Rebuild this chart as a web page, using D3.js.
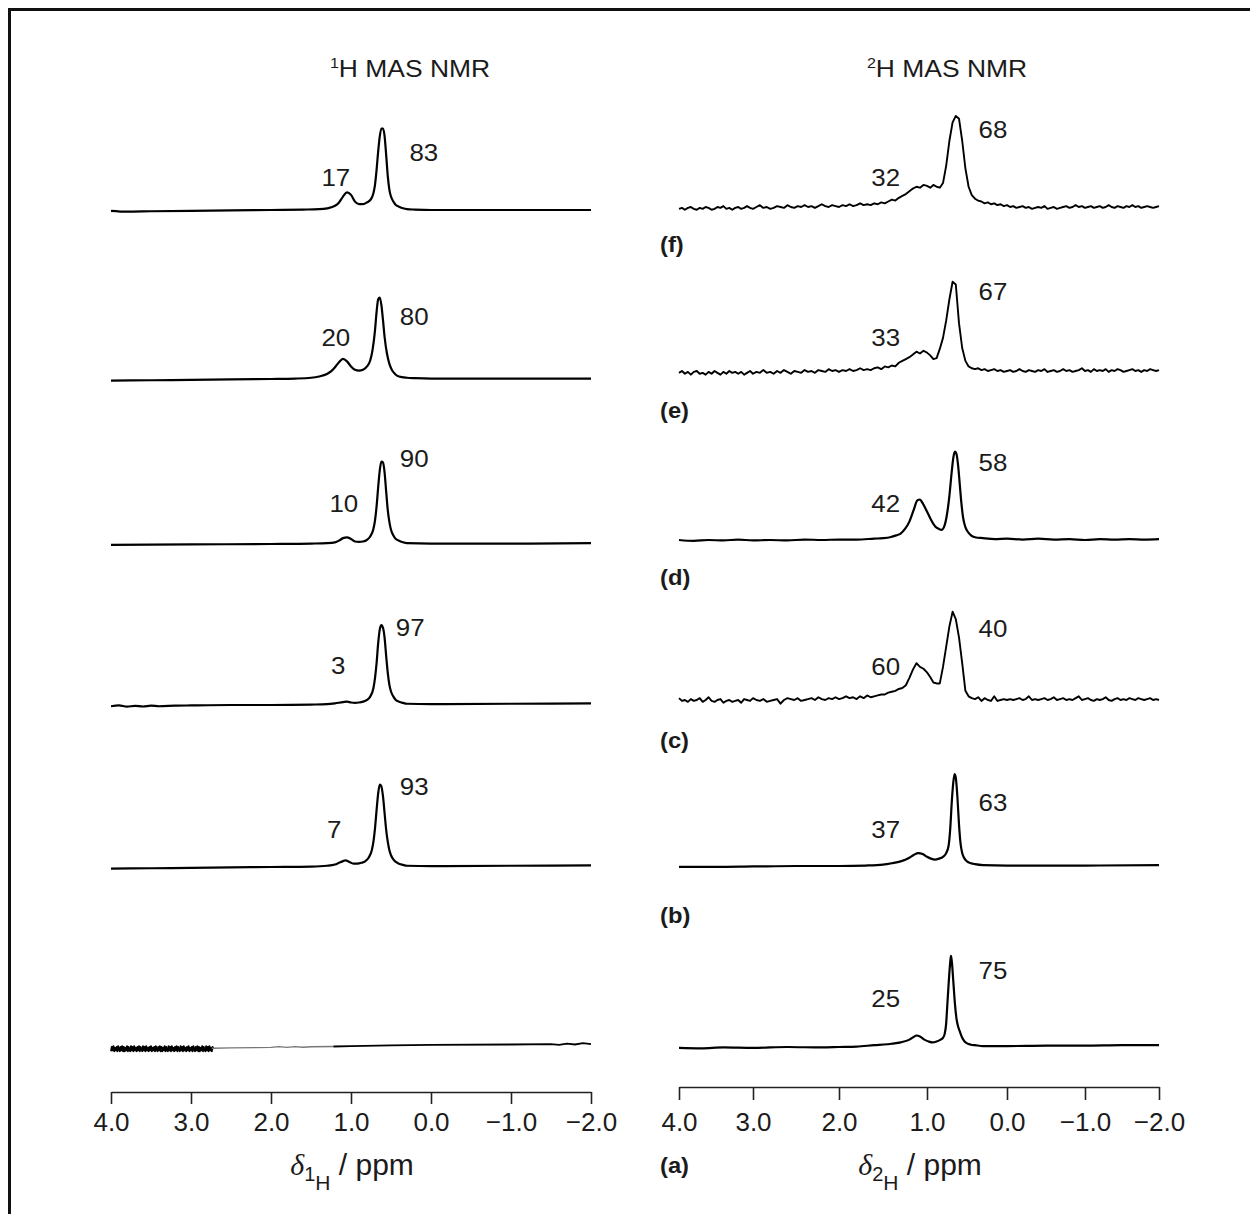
<!DOCTYPE html>
<html>
<head>
<meta charset="utf-8">
<script src="https://cdn.jsdelivr.net/npm/d3@7"></script>
<style>
  html, body { margin: 0; padding: 0; background: #fff; }
  svg { display: block; }
</style>
</head>
<body>
<script>
// ---------------- data ----------------
const tickValues = [4, 3, 2, 1, 0, -1, -2];
const sampleLetters = ["(f)", "(e)", "(d)", "(c)", "(b)", "(a)"];

// relative areas (%) of the ~1.1 ppm and ~0.6 ppm resonances, samples f..a
const h1Areas = [[17, 83], [20, 80], [10, 90], [3, 97], [7, 93], null];
const h2Areas = [[32, 68], [33, 67], [42, 58], [60, 40], [37, 63], [25, 75]];

// 1H MAS NMR spectra: [ppm, intensity]
const h1F = [[4.0,-1],[3.8,-2],[3.5,-1.5],[3.0,-1],[2.5,-0.5],[2.0,0],[1.6,0.5],[1.4,1],[1.3,2],[1.2,5],[1.15,9],[1.1,16],[1.05,21],[1.0,18],[0.95,10],[0.9,7],[0.85,7],[0.8,9],[0.75,13],[0.72,20],[0.7,30],[0.68,48],[0.66,70],[0.64,88],[0.62,97],[0.6,97],[0.58,88],[0.56,65],[0.54,40],[0.52,24],[0.5,16],[0.47,10],[0.44,6],[0.4,4],[0.35,2],[0.3,1],[0.2,0.5],[0,0],[-1,0],[-2,0]];
const h1E = [[4.0,-2],[3.5,-1.5],[3.0,-1],[2.5,-0.5],[2.0,0],[1.7,0.5],[1.5,1.5],[1.4,3],[1.3,6],[1.25,9],[1.2,14],[1.15,20],[1.1,24],[1.05,21],[1.0,15],[0.95,11],[0.9,10],[0.85,11],[0.8,15],[0.76,22],[0.73,35],[0.7,58],[0.68,80],[0.66,95],[0.64,97],[0.62,88],[0.6,70],[0.58,50],[0.55,30],[0.52,18],[0.49,11],[0.45,6],[0.4,3],[0.3,1.5],[0.2,1],[0,0.5],[-1,0.5],[-2,0.5]];
const h1D = [[4.0,-1],[3.0,-0.5],[2.0,0],[1.5,0.5],[1.3,1],[1.2,2],[1.15,4],[1.1,7],[1.05,8],[1.0,6],[0.95,3],[0.9,2.5],[0.85,3],[0.8,5],[0.76,9],[0.72,18],[0.7,28],[0.68,45],[0.66,68],[0.64,88],[0.62,98],[0.6,97],[0.58,85],[0.56,62],[0.54,40],[0.52,26],[0.5,17],[0.47,10],[0.44,6],[0.4,4],[0.35,2],[0.3,1],[0,0.5],[-1,0.5],[-2,1]];
const h1C = [[4.0,-1.5],[3.9,-0.5],[3.8,-2],[3.7,-1],[3.6,-1.8],[3.5,-0.8],[3.4,-1.5],[3.2,-0.8],[3.0,-0.5],[2.5,0],[2.0,0],[1.5,0.5],[1.3,1],[1.2,2],[1.1,3.5],[1.05,4],[1.0,3],[0.95,2.5],[0.9,3],[0.85,4],[0.8,6],[0.76,10],[0.72,20],[0.7,32],[0.68,50],[0.66,74],[0.64,90],[0.62,95],[0.6,92],[0.58,80],[0.56,58],[0.54,38],[0.52,24],[0.5,16],[0.47,10],[0.44,6],[0.4,4],[0.35,2.5],[0.3,1.5],[0,1],[-1,1.5],[-2,2]];
const h1B = [[4.0,-2],[3.5,-1.5],[3.0,-1],[2.5,-0.5],[2.0,0],[1.5,0.5],[1.3,1.5],[1.2,3],[1.15,5],[1.1,7],[1.07,8],[1.02,6],[0.97,4],[0.92,4],[0.87,5],[0.82,7],[0.78,11],[0.74,20],[0.72,30],[0.7,46],[0.68,68],[0.66,88],[0.64,98],[0.62,96],[0.6,84],[0.58,64],[0.56,44],[0.54,30],[0.52,20],[0.5,14],[0.47,9],[0.44,6],[0.4,4],[0.35,2.5],[0.3,1.5],[0,1],[-1,1.5],[-2,2]];
// sample (a): dense noisy record from 4.0 ppm in 0.01 ppm steps, then a flat trace
const h1ANoise = [-5,0,-4,1,-5,-1,-4,0,-5,1,-3,-5,0,-4,1,-5,0,-5,-1,-4,1,-5,0,-4,-5,1,-4,0,-5,1,-4,-1,-5,0,-4,1,-5,0,-3,-5,1,-4,0,-5,1,-4,-1,-5,0,-4,1,-5,-1,-4,0,-5,1,-3,-5,0,-4,1,-5,0,-5,-1,-4,1,-5,0,-4,-5,1,-4,0,-5,1,-4,-1,-5,0,-4,1,-5,0,-3,-5,1,-4,0,-5,1,-4,-1,-5,0,-4,1,-5,-1,-4,0,-5,1,-3,-5,0,-4,1,-5,0,-5,-1,-4,1,-5,0,-4,-5,1,-4,0,-5,1,-4,-1,-5,0,-2];
const h1AFaint = [[2.74,-1.5],[2.5,-1],[2.2,-0.8],[2.0,-0.5],[1.9,0.5],[1.8,-0.5],[1.7,0.5],[1.6,-0.3],[1.5,0.3],[1.22,0.6]];
const h1ATail = [[1.22,0.6],[1.0,1],[0.5,2],[0,2.5],[-1,3],[-1.5,3.5],[-1.6,2.5],[-1.7,4],[-1.8,3],[-1.9,4.5],[-2,3.5]];

// 2H MAS NMR spectra recorded on a 0.04 ppm grid starting at 4.0 ppm (noisy samples)
const h2F = [-2,-1,-3,-1,0,-2,-3,-1,-2,0, -1,-3,-2,0,-1,1,-2,-1,-3,-1, 0,-2,-1,1,-1,-2,0,2,-1,0, -2,-1,1,0,-1,2,0,-1,1,0, 2,0,1,-1,1,3,1,0,2,1, 0,2,1,3,1,2,4,2,3,2, 4,3,5,4,6,8,7,10,12,14, 17,20,22,21,24,23,21,24,22,21, 26,45,72,92,99,96,72,42,22,13, 9,7,6,4,5,3,4,2,3,1, 2,0,1,-1,0,1,-1,0,-2,-1, 0,-1,1,-2,-1,0,-2,-1,0,1, -1,0,2,0,1,-1,0,1,-1,0, 1,-1,0,2,0,-1,1,0,-1,1, 0,2,0,1,-1,0,1,0,-1,0, 1];
const h2E = [-2,0,-3,-1,-4,-1,0,-3,-2,-4, -1,-3,0,-2,-4,-1,-3,0,-2,-1, -3,-1,-4,-2,0,-3,-1,-2,1,-2, -1,-3,0,-2,1,-1,-3,0,-1,-2, 1,-1,0,-2,1,0,-1,2,0,1, -1,1,0,2,0,1,3,1,2,1, 3,4,2,5,4,6,5,9,11,13, 15,18,21,19,22,20,17,13,14,24, 36,55,78,97,94,52,25,11,5,3, 2,3,1,2,0,1,2,0,1,-1, 0,1,-1,0,2,0,-1,1,0,-1, 1,0,2,-1,0,1,-1,0,2,0, 1,-1,0,1,3,0,1,-1,2,0, 1,0,2,-1,1,0,2,1,-1,0, 1,2,0,1,-1,1,0,2,1,0, 1];
const h2C = [2,-1,0,-2,1,-1,0,2,-2,0, 3,-1,-2,0,1,-3,-1,0,-2,-1, 0,-3,1,0,-1,2,0,-1,1,-2, -1,0,1,-4,0,2,1,0,2,-1, 0,1,2,0,3,1,0,2,1,3, 1,2,4,2,3,1,4,2,5,3, 4,5,6,6,8,9,10,12,13,16, 24,33,40,36,34,30,25,19,18,18, 36,58,80,96,88,68,40,10,4,2, 1,3,-1,2,0,-1,4,-1,0,1, 0,1,0,1,2,0,1,4,0,1, 0,1,2,0,1,3,0,1,2,0, 1,0,2,4,0,1,2,0,-1,1, 0,1,3,0,-1,1,2,0,1,0, 2,1,0,2,1,0,1,2,0,1, 0];
// cleaner 2H spectra: [ppm, intensity]
const h2D = [[4,0],[3.8,-1],[3.6,0],[3.4,-0.5],[3.2,0.5],[3.0,-0.5],[2.8,0],[2.6,-0.5],[2.4,0.5],[2.2,0],[2.0,0.5],[1.8,0.5],[1.6,1.5],[1.5,2],[1.42,3],[1.35,5],[1.3,7],[1.25,12],[1.2,20],[1.15,33],[1.11,43],[1.08,44],[1.05,40],[1.0,31],[0.95,22],[0.9,15],[0.85,12],[0.82,11],[0.78,16],[0.75,28],[0.72,48],[0.69,75],[0.67,90],[0.65,96],[0.63,93],[0.61,80],[0.59,60],[0.57,40],[0.55,25],[0.52,14],[0.49,9],[0.45,5],[0.4,3],[0.3,2],[0.15,1],[0,1.5],[-0.2,0.5],[-0.4,1.5],[-0.6,0.5],[-0.8,1],[-1.0,0],[-1.2,1],[-1.4,0.5],[-1.6,1],[-1.8,0.5],[-2,1]];
const h2B = [[4,-1],[3.5,-1],[3.0,-0.5],[2.5,0],[2.0,0],[1.7,0.5],[1.5,1.5],[1.4,3],[1.3,5],[1.2,9],[1.15,12],[1.1,14],[1.05,13],[1.0,10],[0.95,8],[0.9,7],[0.85,8],[0.8,10],[0.76,14],[0.73,22],[0.71,40],[0.69,70],[0.67,92],[0.655,100],[0.64,96],[0.62,75],[0.6,45],[0.58,24],[0.56,14],[0.53,8],[0.5,5],[0.45,3],[0.4,2],[0.3,1],[0,0.5],[-1,0.5],[-2,1]];
const h2A = [[4,-1],[3.7,-1.5],[3.4,-0.5],[3.0,-1],[2.6,0],[2.2,-0.5],[2.0,0],[1.8,0.5],[1.6,2],[1.45,3],[1.3,5],[1.2,8],[1.15,11],[1.12,12.5],[1.08,11.5],[1.03,8],[0.98,6],[0.93,5],[0.88,6],[0.83,8],[0.8,10],[0.78,14],[0.76,26],[0.75,40],[0.73,68],[0.71,92],[0.70,99],[0.69,93],[0.67,70],[0.65,46],[0.63,30],[0.61,22],[0.59,17],[0.56,10],[0.53,6],[0.5,4],[0.45,2.5],[0.4,2],[0.3,1],[0,1],[-0.5,1.5],[-1,1.5],[-1.5,2],[-2,2]];

// ---------------- helpers ----------------
function onGrid(values, start, step) {
  return values.map((v, i) => [start - i * step, v]);
}

// ---------------- layout ----------------
const W = 1250, H = 1214;
const ink = "#1b1b1b";
const sansFont = "'Liberation Sans', Arial, Helvetica, sans-serif";

const panels = [
  {
    nuc: "1",
    x: d3.scaleLinear().domain([4, -2]).range([111, 591]),
    yPer100: 84,
    bases: [210, 379, 544, 705, 867, 1047],
    spectra: [h1F, h1E, h1D, h1C, h1B, onGrid(h1ANoise, 4.0, 0.01)],
    curves: ["smooth", "smooth", "smooth", "smooth", "smooth", "raw"],
    extra: [{ data: h1AFaint, color: "#777", width: 1.4 }, { data: h1ATail, color: "#000", width: 1.8 }],
    areas: h1Areas,
    labelPpm: [[1.19, 0.09], [1.19, 0.21], [1.09, 0.21], [1.16, 0.26], [1.21, 0.21], null],
    labelRise: [[24.5, 49.5], [33, 54], [32, 77], [31, 69], [29, 72], null],
    axisY: 1092, tickSize: 12, tickPad: 9,
    titleX: 410, axisTitleX: 352
  },
  {
    nuc: "2",
    // the printed 2H axis has slightly uneven tick spacing
    x: d3.scaleLinear().domain(tickValues).range([679, 753, 839, 927, 1007, 1085, 1159]),
    yPer100: 92,
    bases: [207, 371, 540, 700, 866, 1047],
    spectra: [onGrid(h2F, 4.0, 0.04), onGrid(h2E, 4.0, 0.04), h2D, onGrid(h2C, 4.0, 0.04), h2B, h2A],
    curves: ["raw", "raw", "smooth", "raw", "smooth", "smooth"],
    extra: [],
    areas: h2Areas,
    labelPpm: [[1.47, 0.175], [1.47, 0.175], [1.47, 0.175], [1.47, 0.175], [1.47, 0.175], [1.47, 0.175]],
    labelRise: [[21, 69], [25, 71], [28, 69], [25, 63], [28, 55], [40, 68]],
    axisY: 1087, tickSize: 13, tickPad: 13,
    titleX: 947, axisTitleX: 920,
    letterX: 660,
    letterY: [252, 418, 585, 748, 923, 1173]
  }
];

const svg = d3.select("body").append("svg")
  .attr("width", W).attr("height", H)
  .style("font-family", sansFont);

svg.append("rect").attr("width", W).attr("height", H).attr("fill", "#fff");

// frame (top and left edges)
svg.append("path")
  .attr("d", `M9.5,${H} V9.5 H${W}`)
  .attr("fill", "none").attr("stroke", "#111").attr("stroke-width", 3);

panels.forEach(p => {
  const g = svg.append("g");
  const ys = d3.scaleLinear().domain([0, 100]).range([0, p.yPer100]);

  // spectra
  p.spectra.forEach((data, k) => {
    const base = p.bases[k];
    const smooth = p.curves[k] === "smooth";
    const line = d3.line()
      .x(d => p.x(d[0]))
      .y(d => base - ys(d[1]))
      .curve(smooth ? d3.curveMonotoneX : d3.curveLinear);
    g.append("path")
      .datum(data)
      .attr("d", line)
      .attr("fill", "none")
      .attr("stroke", "#000")
      .attr("stroke-width", smooth ? 2.2 : 1.9)
      .attr("stroke-linejoin", "round");

    // area percentages
    const a = p.areas[k];
    if (a) {
      a.forEach((val, j) => {
        g.append("text")
          .attr("transform", `translate(${p.x(p.labelPpm[k][j])},${base - p.labelRise[k][j]}) scale(1.08,1)`)
          .attr("text-anchor", "middle")
          .attr("font-size", 24)
          .attr("fill", ink)
          .text(val);
      });
    }
  });

  // continuation of the bottom trace (sample a) after its noisy start
  p.extra.forEach(seg => {
    const base = p.bases[5];
    g.append("path")
      .datum(seg.data)
      .attr("d", d3.line().x(d => p.x(d[0])).y(d => base - ys(d[1])).curve(d3.curveLinear))
      .attr("fill", "none")
      .attr("stroke", seg.color)
      .attr("stroke-width", seg.width);
  });

  // sample letters
  if (p.letterY) {
    p.letterY.forEach((y, k) => {
      g.append("text")
        .attr("transform", `translate(${p.letterX},${y}) scale(1.08,1)`)
        .attr("font-size", 22).attr("font-weight", "bold")
        .attr("fill", ink)
        .text(sampleLetters[k]);
    });
  }

  // axis
  const axis = d3.axisBottom(p.x)
    .tickValues(tickValues)
    .tickFormat(d3.format(".1f"))
    .tickSize(p.tickSize)
    .tickSizeOuter(0)
    .tickPadding(p.tickPad);
  const ag = g.append("g")
    .attr("transform", `translate(0,${p.axisY})`)
    .call(axis);
  ag.select(".domain").attr("stroke", "#222").attr("stroke-width", 1.6);
  ag.selectAll(".tick line").attr("stroke", "#222").attr("stroke-width", 1.6);
  ag.selectAll(".tick text")
    .attr("font-family", sansFont)
    .attr("font-size", 26)
    .attr("fill", ink);

  // panel title
  const t = g.append("text")
    .attr("transform", `translate(${p.titleX},77) scale(1.15,1)`)
    .attr("text-anchor", "middle")
    .attr("font-size", 23)
    .attr("fill", ink);
  t.append("tspan").attr("font-size", 14).attr("dy", -9).text(p.nuc);
  t.append("tspan").attr("dy", 9).text("H MAS NMR");

  // axis title
  const at = g.append("text")
    .attr("x", p.axisTitleX).attr("y", 1175)
    .attr("text-anchor", "middle")
    .attr("font-size", 30)
    .attr("fill", ink);
  at.append("tspan")
    .attr("font-family", "'Liberation Serif', 'Times New Roman', serif")
    .attr("font-style", "italic")
    .text("δ");
  at.append("tspan").attr("font-size", 20).attr("dy", 6).text(p.nuc);
  at.append("tspan").attr("font-size", 21).attr("dy", 9).text("H");
  at.append("tspan").attr("dy", -15).text(" / ppm");
});
</script>
</body>
</html>
